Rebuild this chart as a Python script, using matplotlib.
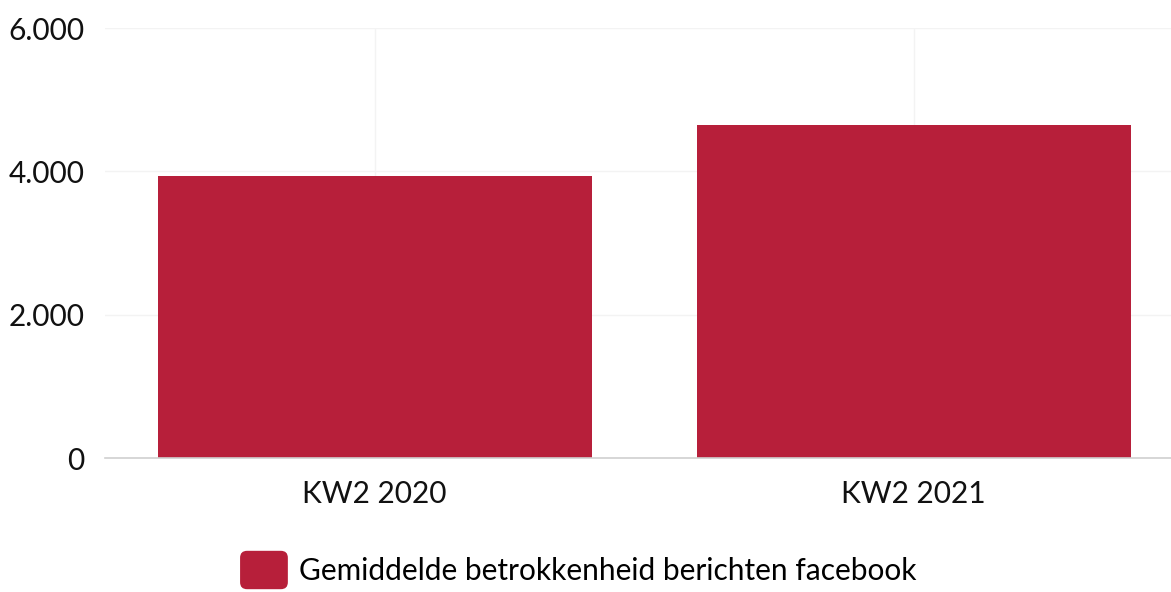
import matplotlib
matplotlib.use("Agg")
import matplotlib.pyplot as plt
from matplotlib.patches import Patch, FancyBboxPatch
from matplotlib.legend_handler import HandlerPatch
from matplotlib.ticker import FuncFormatter

categories = ["KW2 2020", "KW2 2021"]
values = [3935, 4645]
series_name = "Gemiddelde betrokkenheid berichten facebook"
yticks = [0, 2000, 4000, 6000]

plt.rcParams['font.family'] = ['Lato', 'DejaVu Sans']
color = "#B71F3A"
fs = 21.5

fig = plt.figure(figsize=(11.71, 5.92), dpi=100)
ax = fig.add_axes([105/1171, (592-458)/592, 1 - 105/1171, (458-28)/592])

x = list(range(len(categories)))
ax.bar(x, values, width=0.805, color=color, zorder=3)

ax.set_ylim(0, 6000)
ax.set_xlim(-0.5, 1.477)
ax.set_yticks(yticks)
ax.yaxis.set_major_formatter(FuncFormatter(lambda v, p: f"{int(v):,}".replace(",", ".")))
ax.set_xticks(x)
ax.set_xticklabels(categories)
ax.tick_params(axis='both', length=0, labelsize=fs, colors='#111111')
ax.tick_params(axis='y', pad=14.5)
ax.tick_params(axis='x', pad=16)

ax.grid(True, axis='both', color='#f3f3f3', linewidth=1, zorder=0)
for s in ['top', 'right', 'left']:
    ax.spines[s].set_visible(False)
ax.spines['bottom'].set_color('#d0d0d0')
ax.spines['bottom'].set_linewidth(1.2)
ax.spines['bottom'].set_zorder(4)


class RoundHandler(HandlerPatch):
    def create_artists(self, legend, orig_handle, xdescent, ydescent, width, height, fontsize, trans):
        p = FancyBboxPatch((-xdescent, -ydescent), width, height,
                           boxstyle="round,pad=0,rounding_size=5",
                           facecolor=orig_handle.get_facecolor(), edgecolor='none',
                           transform=trans)
        return [p]


handle = Patch(facecolor=color, label=series_name)
fig.legend(handles=[handle], loc='center', bbox_to_anchor=(0.4938, (592-570)/592),
           frameon=False, fontsize=fs, handlelength=1.6, handleheight=1.6,
           handletextpad=0.37, borderpad=0, handler_map={Patch: RoundHandler()})

fig.savefig("out.png", dpi=100)
